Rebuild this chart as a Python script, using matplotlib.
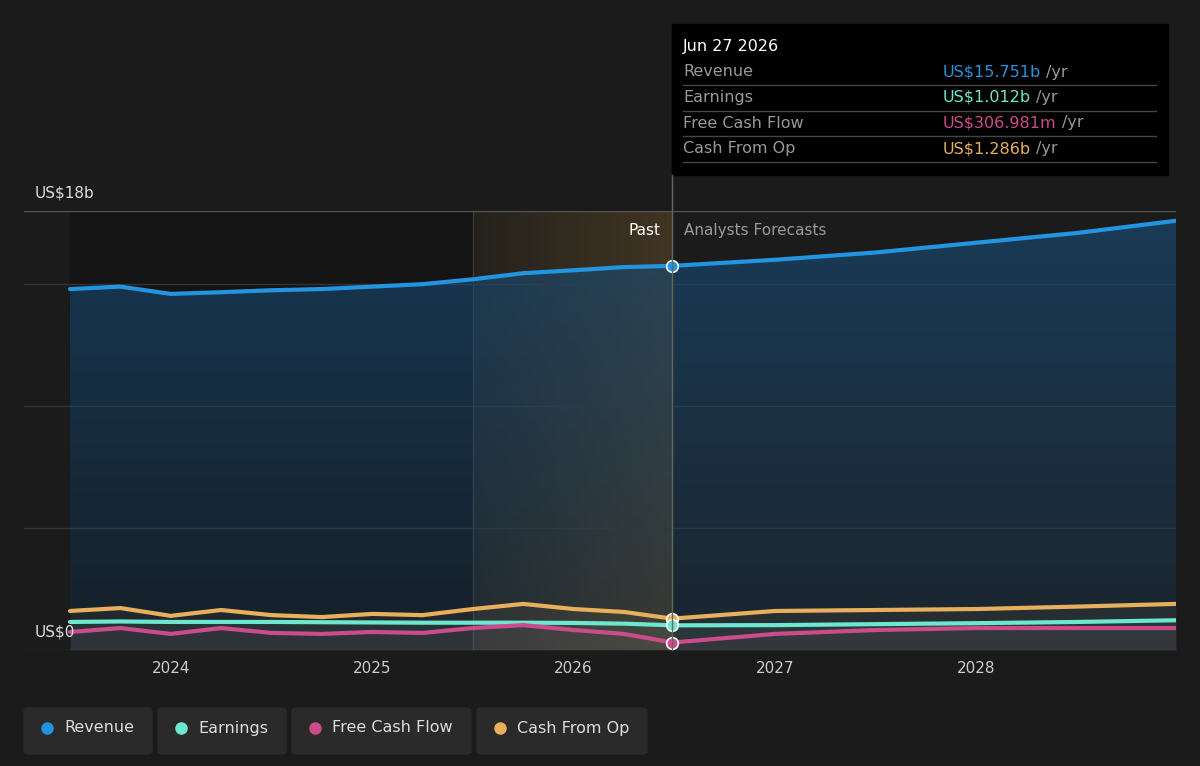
import matplotlib
matplotlib.use("Agg")
import matplotlib.pyplot as plt
import numpy as np
from matplotlib.patches import FancyBboxPatch, Rectangle

years = [2023.5, 2023.75, 2024.0, 2024.25, 2024.5, 2024.75, 2025.0, 2025.25, 2025.5, 2025.75, 2026.0, 2026.25, 2026.49, 2027.0, 2027.5, 2028.0, 2028.5, 2028.99]
revenue = [14.8, 14.9, 14.6, 14.67, 14.75, 14.8, 14.9, 15.0, 15.2, 15.45, 15.57, 15.7, 15.751, 16.0, 16.3, 16.7, 17.1, 17.6]
earnings = [1.15, 1.17, 1.15, 1.15, 1.15, 1.14, 1.13, 1.12, 1.12, 1.12, 1.11, 1.08, 1.012, 1.02, 1.06, 1.1, 1.15, 1.22]
fcf = [0.74, 0.9, 0.66, 0.9, 0.7, 0.66, 0.74, 0.7, 0.9, 1.02, 0.82, 0.66, 0.307, 0.66, 0.82, 0.9, 0.9, 0.9]
cfo = [1.6, 1.72, 1.4, 1.64, 1.43, 1.35, 1.48, 1.43, 1.68, 1.89, 1.68, 1.56, 1.286, 1.6, 1.64, 1.68, 1.78, 1.89]
xticks = [2024, 2025, 2026, 2027, 2028]
legend_labels = ["Revenue", "Earnings", "Free Cash Flow", "Cash From Op"]
tooltip_vals = ["US$15.751b", "US$1.012b", "US$306.981m", "US$1.286b"]
colors = ["#2394df", "#6ee7d0", "#cc4b8a", "#e8b05c"]
now = 2026.49

W, H = 1200, 766
fig = plt.figure(figsize=(12, 7.66), dpi=100, facecolor="#1b1b1b")
ax = fig.add_axes([24/W, 1-650/H, 1152/W, 439/H])
ax.set_facecolor("#1b1b1b")
x0, x1 = 2023.5 - 46/201.3, 2028.99
ax.set_xlim(x0, x1)
ax.set_ylim(0, 18)
for s in ax.spines.values():
    s.set_visible(False)
ax.axvspan(2023.5, 2025.5, color="#141414", zorder=0)
grad = np.linspace(0, 1, 100).reshape(1, -1)
ax.imshow(np.dstack([np.full_like(grad, 0.6), np.full_like(grad, 0.45), np.full_like(grad, 0.2), 0.08+0.22*grad]),
          extent=[2025.5, now, 0, 18], aspect="auto", zorder=1)
ax.axvline(2025.5, color="#3a3a3a", lw=1, zorder=1)
for yv in [5, 10, 15]:
    ax.axhline(yv, color="#333333", lw=1, zorder=1)
ax.axhline(18, color="#555555", lw=1, zorder=1)
ax.axhline(0, color="#333333", lw=1, zorder=1)

# revenue area with vertical gradient
vg = np.linspace(1, 0, 200).reshape(-1, 1)
img = ax.imshow(np.dstack([np.full_like(vg, 0.1), np.full_like(vg, 0.3), np.full_like(vg, 0.47), 0.2+0.45*vg]),
                extent=[2023.5, 2028.99, 0, 18], aspect="auto", zorder=2)
poly = ax.fill_between(years, revenue, color="none", lw=0)
img.set_clip_path(poly.get_paths()[0], transform=ax.transData)
for ser, c in zip([cfo, earnings, fcf], [colors[3], colors[1], colors[2]]):
    ax.fill_between(years, ser, color=c, alpha=0.06, zorder=2, lw=0)
for ser, c in zip([revenue, cfo, earnings, fcf], [colors[0], colors[3], colors[1], colors[2]]):
    ax.plot(years, ser, color=c, lw=3, zorder=4, solid_capstyle="round")
i = years.index(now)
for ser, c in zip([revenue, cfo, earnings, fcf], [colors[0], colors[3], colors[1], colors[2]]):
    ax.scatter([now], [ser[i]], s=70, color=c, edgecolor="white", lw=1.2, zorder=5)

ax.set_xticks(xticks)
ax.set_xticklabels([str(t) for t in xticks], color="#cccccc", fontsize=11)
ax.tick_params(axis="x", length=0, pad=8)
ax.set_yticks([])
fig.text(35/W, 1-193/H, "US$18b", color="#dddddd", fontsize=11, va="center")
fig.text(35/W, 1-632/H, "US$0", color="#dddddd", fontsize=11, va="center")
ax.text(now - 0.06, 17.2, "Past", color="#ffffff", fontsize=11, ha="right", va="center")
ax.text(now + 0.06, 17.2, "Analysts Forecasts", color="#999999", fontsize=11, ha="left", va="center")

fig.add_artist(plt.Line2D([672/W, 672/W], [1-650/H, 1-175/H], color="#666655", lw=1))
fig.add_artist(Rectangle((672/W, 1-175/H), 496/W, 151/H, color="#000000", transform=fig.transFigure))
fig.text(683/W, 1-46/H, "Jun 27 2026", color="white", fontsize=11.5, va="center")
fig.canvas.draw()
r = fig.canvas.get_renderer()
for k, (lab, v, c) in enumerate(zip(legend_labels, tooltip_vals, colors)):
    yy = 72 + k*25.5
    fig.text(683/W, 1-yy/H, lab, color="#999999", fontsize=11.5, va="center")
    t = fig.text(943/W, 1-yy/H, v, color=c, fontsize=11.5, va="center")
    ext = t.get_window_extent(r)
    fig.text((ext.x1 + 5)/W, 1-yy/H, "/yr", color="#999999", fontsize=11.5, va="center")
    fig.add_artist(plt.Line2D([683/W, 1156/W], [1-(yy+13)/H]*2, color="#444444", lw=1))

bx = [(24, 152), (158, 286), (292, 471), (477, 647)]
for (a, b), lab, c in zip(bx, legend_labels, colors):
    fig.add_artist(FancyBboxPatch((a/W, 1-754/H), (b-a)/W, 46/H, boxstyle="round,pad=0,rounding_size=0.004",
                                  color="#2a2a2a", transform=fig.transFigure))
    fig.add_artist(plt.Line2D([(a+23)/W], [1-728/H], marker="o", ms=8, color=c, lw=0))
    fig.text((a+40)/W, 1-728/H, lab, color="#dddddd", fontsize=11.5, va="center")

fig.savefig("out.png", dpi=100, facecolor=fig.get_facecolor())
